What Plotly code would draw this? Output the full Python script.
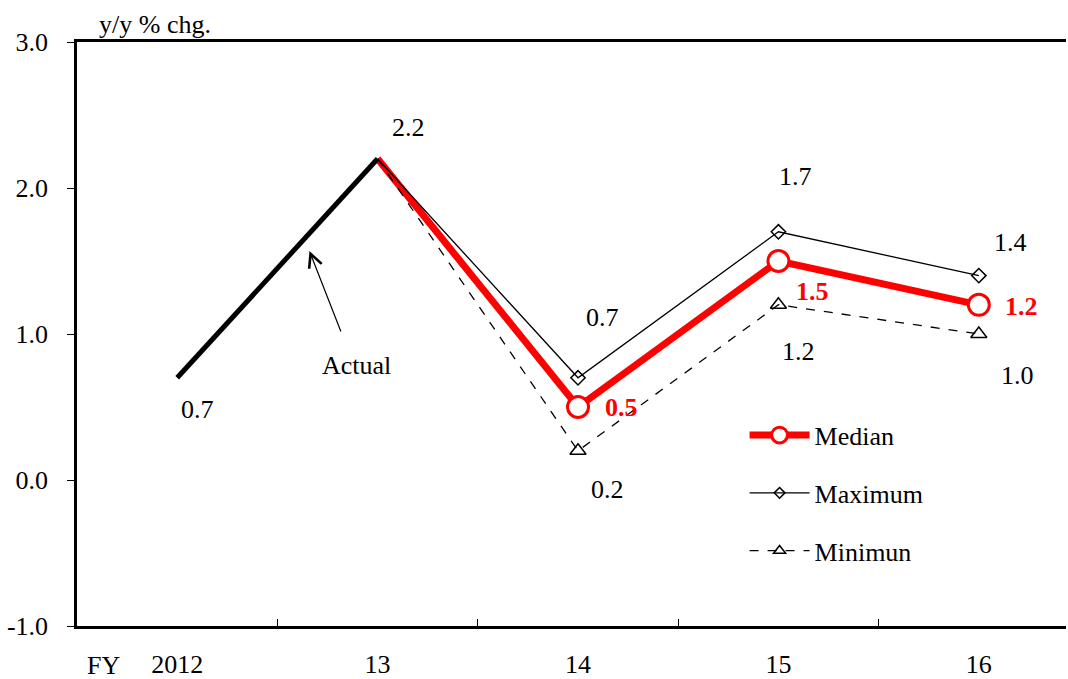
import plotly.graph_objects as go

# Fiscal years (category axis)
years = ["2012", "13", "14", "15", "16"]

# Realised growth
actual_x = ["2012", "13"]
actual_y = [0.7, 2.2]

# Forecast range, starting from the last actual year
fc_x = ["13", "14", "15", "16"]
median_y = [2.2, 0.5, 1.5, 1.2]
maximum_y = [2.2, 0.7, 1.7, 1.4]
minimum_y = [2.2, 0.2, 1.2, 1.0]

FONT = "Liberation Serif, Times New Roman, serif"
FS = 26

fig = go.Figure()

# marker shown only at the forecast years, not at the starting point
def fc_sizes(sz):
    return [0] + [sz] * (len(fc_x) - 1)

fig.add_trace(go.Scatter(
    x=fc_x, y=median_y, name="Median", mode="lines+markers",
    line=dict(color="#ff0000", width=7),
    marker=dict(symbol="circle", size=fc_sizes(21), color="white", opacity=1,
                line=dict(color="#ff0000", width=3)),
    legendgroup="a",
))
fig.add_trace(go.Scatter(
    x=fc_x, y=maximum_y, name="Maximum", mode="lines+markers",
    line=dict(color="black", width=1.3),
    marker=dict(symbol="diamond-open", size=fc_sizes(11), color="black", opacity=1,
                line=dict(color="black", width=1.5)),
    legendgroup="b",
))
fig.add_trace(go.Scatter(
    x=fc_x, y=minimum_y, name="Minimun", mode="lines+markers",
    line=dict(color="black", width=1.3, dash="dash"),
    marker=dict(symbol="triangle-up-open", size=fc_sizes(14), color="black", opacity=1,
                line=dict(color="black", width=1.5)),
    legendgroup="c",
))
fig.add_trace(go.Scatter(
    x=actual_x, y=actual_y, name="Actual", mode="lines",
    line=dict(color="black", width=5), showlegend=False,
))

# value labels: (category, y, xshift, yshift, colour, bold)
labels = [
    (actual_x[0], actual_y[0], 20, -32, "black", False),
    (actual_x[1], actual_y[1], 31, 31, "black", False),
]
max_shift = [(24, 60), (17, 55), (32, 33)]
min_shift = [(29, -39), (20, -47), (39, -41)]
med_shift = [(43, 0), (34, -30), (43, -2)]
for i in range(1, len(fc_x)):
    labels.append((fc_x[i], maximum_y[i], *max_shift[i - 1], "black", False))
    labels.append((fc_x[i], minimum_y[i], *min_shift[i - 1], "black", False))
    labels.append((fc_x[i], median_y[i], *med_shift[i - 1], "#ff0000", True))

for cat, y, dx, dy, col, bold in labels:
    txt = f"{y:.1f}"
    if bold:
        txt = f"<b>{txt}</b>"
    fig.add_annotation(x=years.index(cat), y=y, xref="x", yref="y", text=txt,
                       showarrow=False, xshift=dx, yshift=dy,
                       font=dict(family=FONT, size=FS, color=col))

# "Actual" pointer
fig.add_annotation(x=0.66, y=1.568, xref="x", yref="y", text="", showarrow=True,
                   arrowhead=5, arrowsize=2.2, arrowwidth=1.2, arrowcolor="black",
                   ax=32, ay=82)
fig.add_annotation(x=0.9, y=1.568, xref="x", yref="y", text="Actual", showarrow=False,
                   xshift=-1, yshift=-114, font=dict(family=FONT, size=FS, color="black"))

# unit label and FY prefix
fig.add_annotation(xref="paper", yref="paper", x=0.02, y=1.0, yshift=18, xanchor="left",
                   yanchor="middle", text="y/y % chg.", showarrow=False,
                   font=dict(family=FONT, size=FS, color="black"))
fig.add_annotation(xref="paper", yref="paper", x=0.027, y=0, yshift=-39, xanchor="center",
                   yanchor="middle", text="FY", showarrow=False,
                   font=dict(family=FONT, size=FS, color="black"))

ytick_vals = [-1, 0, 1, 2, 3]
ytick_text = [f"{v:.1f}" for v in ytick_vals]

fig.update_layout(
    width=1068, height=679,
    margin=dict(l=77, r=2, t=42, b=53),
    paper_bgcolor="white", plot_bgcolor="white",
    font=dict(family=FONT, size=FS, color="black"),
    showlegend=True,
    legend=dict(x=0.675, y=0.367, xanchor="left", yanchor="top",
                bgcolor="rgba(0,0,0,0)", tracegroupgap=21, itemwidth=60,
                traceorder="grouped", font=dict(family=FONT, size=FS)),
    xaxis=dict(
        type="category", categoryorder="array", categoryarray=years,
        range=[-0.5, 4.435], showgrid=False, zeroline=False, automargin=False,
        showline=True, linecolor="black", linewidth=2.5, mirror=True,
        ticks="inside", tickson="boundaries", ticklen=7, tickwidth=1.3, tickcolor="black",
        ticklabelstandoff=13, tickfont=dict(family=FONT, size=FS),
    ),
    yaxis=dict(
        range=[-1, 3], tickmode="array", tickvals=ytick_vals, ticktext=ytick_text,
        showgrid=False, zeroline=False, automargin=False,
        showline=True, linecolor="black", linewidth=2.5,
        ticks="outside", ticklen=7, tickwidth=1.3, tickcolor="black",
        ticklabelstandoff=14, tickfont=dict(family=FONT, size=FS),
    ),
)

fig.write_html("out.html")
